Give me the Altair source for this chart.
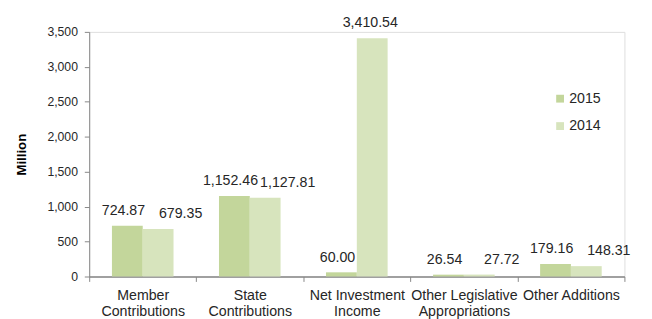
import altair as alt
import pandas as pd

categories = ["Member Contributions", "State Contributions", "Net Investment Income",
              "Other Legislative Appropriations", "Other Additions"]
label_lines = [["Member", "Contributions"], ["State", "Contributions"],
               ["Net Investment", "Income"], ["Other Legislative", "Appropriations"],
               ["Other Additions"]]
values_2015 = [724.87, 1152.46, 60.00, 26.54, 179.16]
values_2014 = [679.35, 1127.81, 3410.54, 27.72, 148.31]
series = ["2015", "2014"]
colors = ["#c3d69b", "#d7e4bd"]

rows = []
for c, a, b in zip(categories, values_2015, values_2014):
    rows.append({"category": c, "year": "2015", "value": a})
    rows.append({"category": c, "year": "2014", "value": b})
df = pd.DataFrame(rows)

# multi-line axis labels
expr = "datum.label"
for c, lines in zip(reversed(categories), reversed(label_lines)):
    arr = "[" + ",".join("'" + l + "'" for l in lines) + "]"
    expr = f"datum.label == '{c}' ? {arr} : ({expr})"

FONT = "Liberation Sans"
TXT = "#262626"

x = alt.X("category:N", sort=categories, title=None,
          scale=alt.Scale(paddingInner=0, paddingOuter=0),
          axis=alt.Axis(labelAngle=0, tickBand="extent", labelExpr=expr,
                        labelFont=FONT, labelFontSize=14.5, labelColor=TXT,
                        labelPadding=8, labelLineHeight=16, labelBaseline="top",
                        domainColor="#868686", domainWidth=1.5,
                        tickColor="#868686", tickSize=5,
                        labelLimit=200))

y = alt.Y("value:Q", scale=alt.Scale(domain=[0, 3500]),
          title="Million",
          axis=alt.Axis(values=list(range(0, 3501, 500)), format=",.0f", grid=False,
                        labelFont=FONT, labelFontSize=12.5, labelColor=TXT,
                        tickSize=5, labelPadding=7, domainColor="#868686",
                        tickColor="#868686", titleFont=FONT, titleFontSize=13.5,
                        titleFontWeight="bold", titleColor="#000000", titlePadding=19))

xoff = alt.XOffset("year:N", sort=series,
                   scale=alt.Scale(domain=series, paddingInner=0, paddingOuter=0.738))

base = alt.Chart(df)

bars = base.mark_bar().encode(
    x=x,
    xOffset=xoff,
    y=y,
    color=alt.Color("year:N", sort=series,
                    scale=alt.Scale(domain=series, range=colors),
                    legend=alt.Legend(title=None, orient="none", legendX=474, legendY=61,
                                      symbolType="square", symbolSize=64,
                                      symbolStrokeWidth=0, labelFont=FONT,
                                      labelFontSize=14.5, labelColor=TXT,
                                      rowPadding=13, labelOffset=2)),
)

def text_layer(filt, dx):
    return base.transform_joinaggregate(
        vmin="min(value)", vmax="max(value)", groupby=["category"]
    ).transform_filter(filt).mark_text(
        dx=dx, dy=-15, baseline="middle", font=FONT, fontSize=14.5, color=TXT
    ).encode(
        x=x,
        xOffset=xoff,
        y=y,
        text=alt.Text("value:Q", format=",.2f"),
    )

t15 = text_layer("datum.year == '2015'", -4)
t14a = text_layer("datum.year == '2014' && datum.vmax - datum.vmin < 1000", 23)
t14b = text_layer("datum.year == '2014' && datum.vmax - datum.vmin >= 1000", -2)

chart = alt.layer(bars, t15, t14a, t14b).properties(
    width=547, height=250,
    autosize=alt.AutoSizeParams(type="none"),
    padding={"left": 83, "top": 21, "right": 20, "bottom": 40},
).configure_view(stroke=None).configure(font=FONT)

chart.save("out.html", embed_options={"renderer": "svg", "actions": False})
